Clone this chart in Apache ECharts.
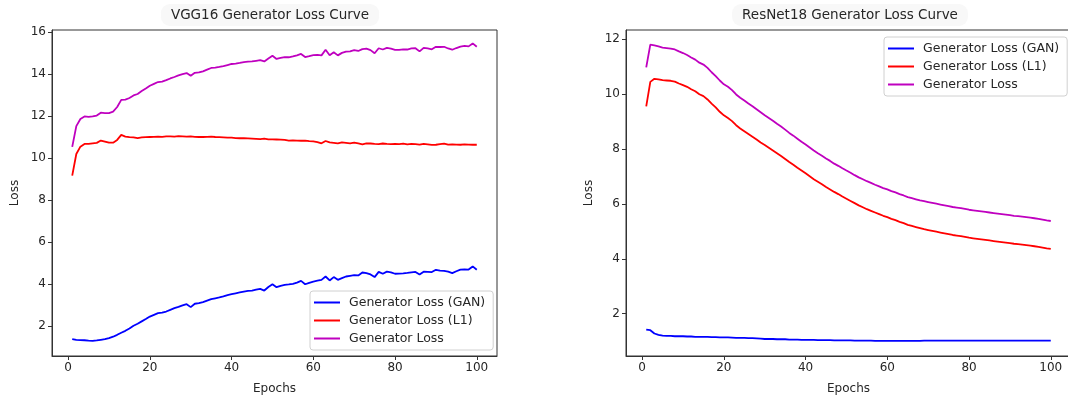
<!DOCTYPE html>
<html>
<head>
<meta charset="utf-8">
<title>Generator Loss Curves</title>
<script src="https://cdn.jsdelivr.net/npm/echarts@6/dist/echarts.min.js"></script>
<style>
  html, body { margin: 0; padding: 0; background: #fff; }
  #chart { width: 1068px; height: 396px; }
</style>
</head>
<body>
<div id="chart"></div>
<script>
// epochs 1..100
const epochs = Array.from({ length: 100 }, (_, i) => i + 1)
const xTicks = [0, 20, 40, 60, 80, 100]
const vggYTicks = [2, 4, 6, 8, 10, 12, 14, 16]
const resYTicks = [2, 4, 6, 8, 10, 12]
const seriesNames = ['Generator Loss (GAN)', 'Generator Loss (L1)', 'Generator Loss']

// VGG16 values
const vggGan = [
  1.37, 1.33, 1.32, 1.31, 1.29, 1.28, 1.30, 1.33, 1.36, 1.41,
  1.48, 1.57, 1.67, 1.76, 1.87, 2.00, 2.10, 2.21, 2.32, 2.44,
  2.52, 2.60, 2.63, 2.68, 2.76, 2.84, 2.90, 2.97, 3.03, 2.89,
  3.05, 3.08, 3.13, 3.20, 3.27, 3.31, 3.35, 3.40, 3.46, 3.51,
  3.55, 3.59, 3.63, 3.66, 3.68, 3.72, 3.76, 3.68, 3.85, 3.98,
  3.84, 3.90, 3.95, 3.97, 4.00, 4.06, 4.14, 3.98, 4.05, 4.11,
  4.15, 4.19, 4.35, 4.16, 4.32, 4.19, 4.27, 4.35, 4.38, 4.41,
  4.40, 4.54, 4.51, 4.45, 4.32, 4.57, 4.48, 4.58, 4.55, 4.48,
  4.49, 4.50, 4.52, 4.55, 4.57, 4.44, 4.58, 4.57, 4.56, 4.67,
  4.63, 4.62, 4.58, 4.51, 4.60, 4.68, 4.69, 4.68, 4.83, 4.67
]
const vggL1 = [
  9.16, 10.19, 10.54, 10.67, 10.67, 10.70, 10.72, 10.83, 10.78, 10.73,
  10.73, 10.86, 11.10, 11.02, 10.99, 10.98, 10.95, 10.98, 10.99, 11.00,
  11.01, 11.02, 11.01, 11.03, 11.03, 11.02, 11.04, 11.03, 11.02, 11.03,
  11.01, 11.00, 11.00, 11.01, 11.02, 11.00, 10.99, 10.98, 10.97, 10.97,
  10.95, 10.94, 10.94, 10.93, 10.92, 10.91, 10.90, 10.92, 10.89, 10.89,
  10.88, 10.87, 10.86, 10.83, 10.84, 10.83, 10.82, 10.83, 10.80, 10.79,
  10.76, 10.70, 10.81, 10.74, 10.72, 10.70, 10.74, 10.72, 10.70, 10.73,
  10.70, 10.65, 10.70, 10.69, 10.67, 10.66, 10.69, 10.67, 10.66, 10.67,
  10.66, 10.68, 10.65, 10.67, 10.66, 10.64, 10.67, 10.65, 10.62, 10.63,
  10.66, 10.68, 10.64, 10.65, 10.64, 10.63, 10.65, 10.64, 10.63, 10.63
]
const vggTotal = [
  10.53, 11.52, 11.86, 11.98, 11.96, 11.98, 12.02, 12.16, 12.14, 12.14,
  12.21, 12.43, 12.77, 12.78, 12.86, 12.98, 13.05, 13.19, 13.31, 13.44,
  13.53, 13.62, 13.64, 13.71, 13.79, 13.86, 13.94, 14.00, 14.05, 13.92,
  14.06, 14.08, 14.13, 14.21, 14.29, 14.31, 14.34, 14.38, 14.43, 14.48,
  14.50, 14.53, 14.57, 14.59, 14.60, 14.63, 14.66, 14.60, 14.74, 14.87,
  14.72, 14.77, 14.81, 14.80, 14.84, 14.89, 14.96, 14.81, 14.85, 14.90,
  14.91, 14.89, 15.16, 14.90, 15.04, 14.89, 15.01, 15.07, 15.08, 15.14,
  15.10, 15.19, 15.21, 15.14, 14.99, 15.23, 15.17, 15.25, 15.21, 15.15,
  15.15, 15.18, 15.17, 15.22, 15.23, 15.08, 15.25, 15.22, 15.18, 15.30,
  15.29, 15.30, 15.22, 15.16, 15.24, 15.31, 15.34, 15.32, 15.46, 15.30
]

// ResNet18 values
const resGan = [
  1.42, 1.40, 1.28, 1.23, 1.20, 1.19, 1.19, 1.18, 1.18, 1.18,
  1.17, 1.17, 1.16, 1.16, 1.16, 1.16, 1.15, 1.15, 1.14, 1.14,
  1.14, 1.13, 1.12, 1.12, 1.12, 1.11, 1.11, 1.10, 1.09, 1.08,
  1.08, 1.08, 1.07, 1.07, 1.07, 1.06, 1.06, 1.06, 1.05, 1.05,
  1.05, 1.05, 1.04, 1.04, 1.04, 1.04, 1.03, 1.03, 1.03, 1.03,
  1.03, 1.02, 1.02, 1.02, 1.02, 1.02, 1.01, 1.01, 1.01, 1.01,
  1.01, 1.01, 1.01, 1.01, 1.01, 1.01, 1.01, 1.01, 1.02, 1.02,
  1.02, 1.02, 1.02, 1.02, 1.02, 1.02, 1.02, 1.02, 1.02, 1.02,
  1.02, 1.02, 1.02, 1.02, 1.02, 1.02, 1.02, 1.02, 1.02, 1.02,
  1.02, 1.02, 1.02, 1.02, 1.02, 1.02, 1.02, 1.02, 1.02, 1.02
]
const resL1 = [
  9.56, 10.45, 10.56, 10.54, 10.51, 10.50, 10.49, 10.46, 10.39, 10.33,
  10.27, 10.18, 10.11, 10.00, 9.93, 9.81, 9.66, 9.52, 9.36, 9.23,
  9.13, 9.02, 8.87, 8.75, 8.65, 8.55, 8.45, 8.35, 8.24, 8.15,
  8.05, 7.95, 7.85, 7.75, 7.64, 7.53, 7.43, 7.32, 7.22, 7.12,
  7.01, 6.90, 6.81, 6.72, 6.62, 6.53, 6.44, 6.36, 6.27, 6.19,
  6.11, 6.03, 5.95, 5.88, 5.81, 5.75, 5.69, 5.63, 5.57, 5.52,
  5.46, 5.41, 5.35, 5.30, 5.24, 5.20, 5.16, 5.12, 5.08, 5.05,
  5.02, 4.99, 4.96, 4.93, 4.90, 4.87, 4.85, 4.83, 4.80, 4.77,
  4.75, 4.73, 4.71, 4.69, 4.67, 4.65, 4.63, 4.61, 4.59, 4.57,
  4.55, 4.54, 4.52, 4.50, 4.48, 4.46, 4.44, 4.41, 4.38, 4.36
]
const resTotal = [
  10.98, 11.81, 11.78, 11.74, 11.70, 11.68, 11.66, 11.63, 11.56, 11.50,
  11.43, 11.34, 11.26, 11.15, 11.08, 10.96, 10.80, 10.66, 10.50, 10.36,
  10.27, 10.15, 9.99, 9.87, 9.77, 9.66, 9.56, 9.45, 9.34, 9.23,
  9.13, 9.03, 8.92, 8.82, 8.71, 8.59, 8.49, 8.38, 8.27, 8.17,
  8.06, 7.95, 7.85, 7.76, 7.66, 7.57, 7.47, 7.39, 7.30, 7.22,
  7.14, 7.05, 6.97, 6.90, 6.83, 6.77, 6.70, 6.64, 6.58, 6.53,
  6.47, 6.42, 6.36, 6.31, 6.25, 6.21, 6.17, 6.13, 6.10, 6.07,
  6.04, 6.01, 5.98, 5.95, 5.92, 5.89, 5.87, 5.85, 5.82, 5.79,
  5.77, 5.75, 5.73, 5.71, 5.69, 5.67, 5.65, 5.63, 5.61, 5.59,
  5.57, 5.56, 5.54, 5.52, 5.50, 5.48, 5.46, 5.43, 5.40, 5.38
]

const colors = ['#0000ff', '#ff0000', '#bf00bf']
const textColor = '#262626'
const fontFamily = 'DejaVu Sans'

const chart = echarts.init(document.getElementById('chart'), null, { renderer: 'canvas' })

function pairs(values) {
  return epochs.map((e, i) => [e, values[i]])
}

function makeX(gridIndex) {
  return {
    type: 'value',
    gridIndex: gridIndex,
    min: -3.95,
    max: 104.95,
    name: 'Epochs',
    nameLocation: 'middle',
    nameGap: 27,
    nameTextStyle: { color: textColor, fontSize: 12, fontFamily: fontFamily },
    axisLine: { show: true, onZero: false, lineStyle: { color: '#333', width: 1 } },
    axisTick: { show: true, length: 4, customValues: xTicks, lineStyle: { color: '#333' } },
    axisLabel: { customValues: xTicks, color: textColor, fontSize: 12, fontFamily: fontFamily, margin: 6 },
    splitLine: { show: false }
  }
}

function makeY(gridIndex, min, max, ticks) {
  return {
    type: 'value',
    gridIndex: gridIndex,
    min: min,
    max: max,
    name: 'Loss',
    nameLocation: 'middle',
    nameGap: 31,
    nameTextStyle: { color: textColor, fontSize: 12, fontFamily: fontFamily },
    axisLine: { show: true, onZero: false, lineStyle: { color: '#333', width: 1 } },
    axisTick: { show: true, length: 4, customValues: ticks, lineStyle: { color: '#333' } },
    axisLabel: { customValues: ticks, color: textColor, fontSize: 12, fontFamily: fontFamily, margin: 6 },
    splitLine: { show: false }
  }
}

function makeLegend(left, top) {
  return {
    orient: 'vertical',
    left: left,
    top: top,
    icon: 'rect',
    itemWidth: 26,
    itemHeight: 2,
    itemGap: 5,
    padding: [5, 8, 5, 4],
    borderColor: '#d0d0d0',
    borderWidth: 1,
    borderRadius: 3,
    backgroundColor: '#fff',
    textStyle: { color: textColor, fontSize: 12.5, fontFamily: fontFamily, lineHeight: 13, padding: [0, 0, 0, 4] },
    data: seriesNames
  }
}

function makeSeries(name, values, color, idx) {
  return {
    name: name,
    type: 'line',
    xAxisIndex: idx,
    yAxisIndex: idx,
    data: pairs(values),
    symbol: 'none',
    lineStyle: { color: color, width: 1.8 },
    itemStyle: { color: color },
    animation: false
  }
}

const titleStyle = {
  color: textColor,
  fontSize: 13.5,
  fontWeight: 'normal',
  fontFamily: fontFamily
}

const gridBase = {
  top: 30,
  width: 445,
  height: 326,
  show: true,
  borderColor: '#333',
  borderWidth: 1,
  backgroundColor: 'transparent',
  containLabel: false,
  outerBoundsMode: 'none'
}

const option = {
  backgroundColor: '#fff',
  animation: false,
  title: [
    {
      text: 'VGG16 Generator Loss Curve',
      left: 260,
      top: 4,
      textAlign: 'center',
      padding: [4, 10],
      backgroundColor: '#f8f8f8',
      borderRadius: 9,
      textStyle: titleStyle
    },
    {
      text: 'ResNet18 Generator Loss Curve',
      left: 840,
      top: 4,
      textAlign: 'center',
      padding: [4, 10],
      backgroundColor: '#f8f8f8',
      borderRadius: 9,
      textStyle: titleStyle
    }
  ],
  grid: [
    Object.assign({ left: 52 }, gridBase),
    Object.assign({ left: 626 }, gridBase)
  ],
  legend: [makeLegend(310, 291), makeLegend(884, 37)],
  xAxis: [makeX(0), makeX(1)],
  yAxis: [makeY(0, 0.56, 16.1, vggYTicks), makeY(1, 0.46, 12.34, resYTicks)],
  series: [
    makeSeries(seriesNames[0], vggGan, colors[0], 0),
    makeSeries(seriesNames[1], vggL1, colors[1], 0),
    makeSeries(seriesNames[2], vggTotal, colors[2], 0),
    makeSeries(seriesNames[0], resGan, colors[0], 1),
    makeSeries(seriesNames[1], resL1, colors[1], 1),
    makeSeries(seriesNames[2], resTotal, colors[2], 1)
  ]
}

chart.setOption(option)
</script>
</body>
</html>
